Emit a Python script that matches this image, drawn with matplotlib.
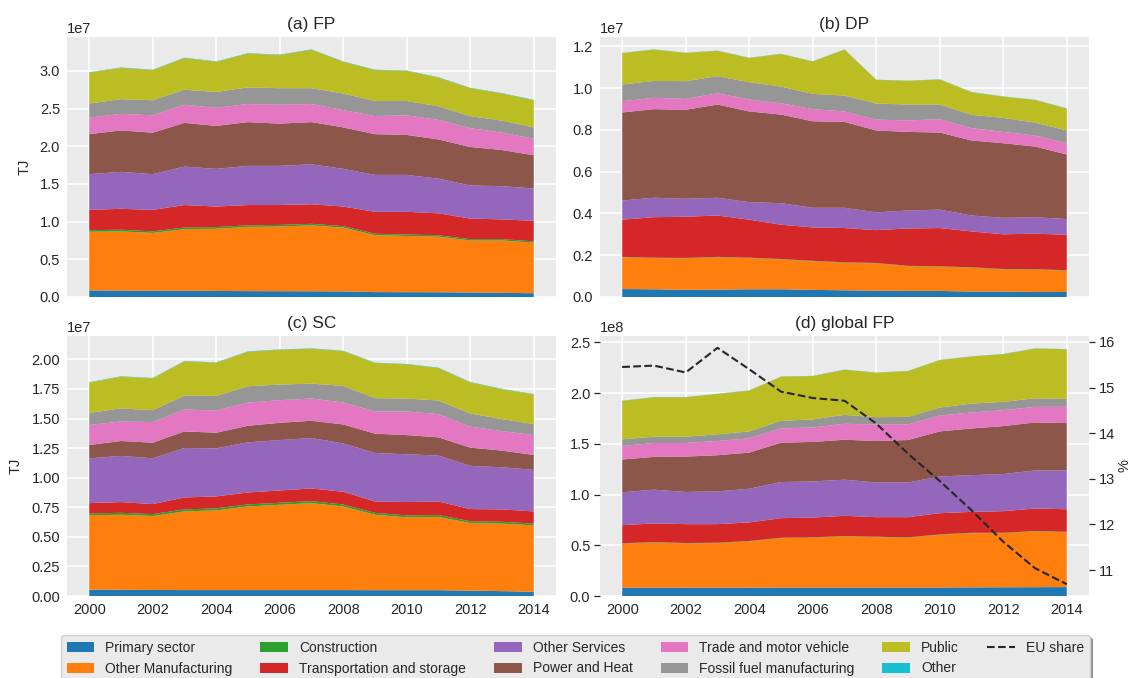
import matplotlib
matplotlib.use("Agg")
import matplotlib.pyplot as plt
from matplotlib.ticker import MultipleLocator
import numpy as np

plt.rcParams.update({
    "font.family": ["Liberation Sans", "DejaVu Sans"],
    "axes.facecolor": "#EAEAEA",
    "axes.edgecolor": "white",
    "axes.grid": True,
    "axes.axisbelow": True,
    "grid.color": "white",
    "grid.linewidth": 1.1,
    "text.color": "#262626",
    "axes.labelcolor": "#262626",
    "xtick.color": "#262626",
    "ytick.color": "#262626",
    "xtick.labelsize": 10.5,
    "ytick.labelsize": 10.5,
    "axes.titlesize": 12.5,
    "axes.labelsize": 10.5,
})

years = np.arange(2000, 2015)

sectors = ["Primary sector", "Other Manufacturing", "Construction",
           "Transportation and storage", "Other Services", "Power and Heat",
           "Trade and motor vehicle", "Fossil fuel manufacturing", "Public", "Other"]

# (a) FP, 1e7 TJ
fp_primary = [0.088, 0.085, 0.083, 0.082, 0.080, 0.078, 0.077, 0.076, 0.074, 0.065, 0.064, 0.063, 0.060, 0.055, 0.050]
fp_manuf = [0.777, 0.785, 0.767, 0.818, 0.825, 0.852, 0.858, 0.874, 0.846, 0.755, 0.746, 0.737, 0.690, 0.695, 0.670]
fp_constr = [0.022, 0.022, 0.021, 0.022, 0.022, 0.021, 0.021, 0.021, 0.020, 0.019, 0.019, 0.019, 0.018, 0.018, 0.018]
fp_transport = [0.269, 0.278, 0.285, 0.298, 0.273, 0.269, 0.264, 0.259, 0.260, 0.291, 0.301, 0.291, 0.272, 0.262, 0.272]
fp_services = [0.474, 0.490, 0.474, 0.510, 0.500, 0.520, 0.520, 0.530, 0.500, 0.490, 0.490, 0.460, 0.440, 0.440, 0.430]
fp_power = [0.530, 0.550, 0.550, 0.580, 0.570, 0.580, 0.560, 0.560, 0.550, 0.540, 0.530, 0.520, 0.510, 0.480, 0.440]
fp_trade = [0.220, 0.220, 0.230, 0.240, 0.240, 0.240, 0.250, 0.240, 0.230, 0.240, 0.260, 0.260, 0.250, 0.230, 0.220]
fp_fossil = [0.187, 0.195, 0.200, 0.200, 0.210, 0.220, 0.220, 0.210, 0.220, 0.200, 0.190, 0.180, 0.160, 0.160, 0.150]
fp_public = [0.410, 0.415, 0.400, 0.420, 0.400, 0.450, 0.440, 0.510, 0.420, 0.410, 0.400, 0.380, 0.370, 0.360, 0.360]
fp_other = [0.005] * 15

# (b) DP, 1e7 TJ
dp_primary = [0.038, 0.037, 0.034, 0.035, 0.037, 0.037, 0.034, 0.032, 0.030, 0.029, 0.029, 0.026, 0.026, 0.024, 0.024]
dp_manuf = [0.152, 0.149, 0.151, 0.155, 0.149, 0.143, 0.137, 0.132, 0.131, 0.118, 0.116, 0.114, 0.106, 0.107, 0.102]
dp_constr = [0.002] * 15
dp_transport = [0.178, 0.194, 0.197, 0.198, 0.182, 0.164, 0.160, 0.164, 0.157, 0.179, 0.183, 0.172, 0.166, 0.170, 0.170]
dp_services = [0.092, 0.093, 0.086, 0.085, 0.084, 0.103, 0.094, 0.097, 0.085, 0.086, 0.088, 0.076, 0.079, 0.079, 0.075]
dp_power = [0.421, 0.424, 0.426, 0.446, 0.434, 0.424, 0.414, 0.411, 0.392, 0.376, 0.369, 0.359, 0.357, 0.338, 0.309]
dp_trade = [0.054, 0.054, 0.052, 0.054, 0.057, 0.054, 0.058, 0.050, 0.052, 0.055, 0.064, 0.059, 0.054, 0.053, 0.054]
dp_fossil = [0.080, 0.081, 0.085, 0.082, 0.083, 0.080, 0.073, 0.076, 0.077, 0.076, 0.070, 0.064, 0.067, 0.062, 0.061]
dp_public = [0.150, 0.150, 0.135, 0.121, 0.116, 0.156, 0.155, 0.220, 0.113, 0.113, 0.120, 0.108, 0.102, 0.108, 0.105]
dp_other = [0.001] * 15

# (c) SC, 1e7 TJ
sc_primary = [0.053, 0.052, 0.051, 0.050, 0.050, 0.050, 0.050, 0.050, 0.050, 0.049, 0.049, 0.049, 0.045, 0.041, 0.036]
sc_manuf = [0.629, 0.635, 0.625, 0.665, 0.674, 0.707, 0.721, 0.735, 0.707, 0.638, 0.616, 0.619, 0.572, 0.571, 0.561]
sc_constr = [0.016, 0.016, 0.016, 0.017, 0.017, 0.017, 0.017, 0.017, 0.016, 0.016, 0.016, 0.016, 0.015, 0.015, 0.015]
sc_transport = [0.087, 0.091, 0.085, 0.101, 0.101, 0.101, 0.104, 0.107, 0.108, 0.096, 0.113, 0.115, 0.103, 0.105, 0.103]
sc_services = [0.379, 0.390, 0.387, 0.418, 0.406, 0.424, 0.426, 0.426, 0.409, 0.410, 0.404, 0.388, 0.365, 0.356, 0.351]
sc_power = [0.112, 0.126, 0.132, 0.140, 0.132, 0.140, 0.146, 0.146, 0.160, 0.163, 0.162, 0.154, 0.154, 0.141, 0.126]
sc_trade = [0.169, 0.165, 0.174, 0.185, 0.188, 0.196, 0.191, 0.188, 0.185, 0.188, 0.200, 0.196, 0.177, 0.165, 0.168]
sc_fossil = [0.103, 0.110, 0.101, 0.118, 0.123, 0.138, 0.132, 0.126, 0.141, 0.112, 0.109, 0.115, 0.112, 0.101, 0.093]
sc_public = [0.256, 0.269, 0.269, 0.289, 0.281, 0.292, 0.294, 0.295, 0.294, 0.297, 0.289, 0.275, 0.263, 0.253, 0.250]
sc_other = [0.003] * 15

# (d) global FP, 1e8 TJ
gl_primary = [0.082, 0.082, 0.082, 0.082, 0.082, 0.083, 0.083, 0.083, 0.083, 0.083, 0.084, 0.085, 0.086, 0.087, 0.088]
gl_manuf = [0.433, 0.446, 0.436, 0.439, 0.456, 0.487, 0.491, 0.504, 0.497, 0.491, 0.519, 0.534, 0.533, 0.549, 0.541]
gl_constr = [0.004] * 15
gl_transport = [0.179, 0.183, 0.186, 0.183, 0.183, 0.193, 0.195, 0.199, 0.193, 0.199, 0.209, 0.206, 0.213, 0.222, 0.222]
gl_services = [0.324, 0.333, 0.317, 0.323, 0.332, 0.356, 0.356, 0.356, 0.342, 0.342, 0.362, 0.362, 0.365, 0.375, 0.382]
gl_power = [0.323, 0.323, 0.349, 0.356, 0.356, 0.388, 0.389, 0.394, 0.408, 0.418, 0.444, 0.460, 0.473, 0.473, 0.467]
gl_trade = [0.133, 0.137, 0.134, 0.140, 0.141, 0.140, 0.143, 0.157, 0.164, 0.154, 0.157, 0.157, 0.157, 0.154, 0.160]
gl_fossil = [0.066, 0.062, 0.062, 0.066, 0.068, 0.075, 0.079, 0.088, 0.071, 0.075, 0.078, 0.088, 0.082, 0.084, 0.078]
gl_public = [0.378, 0.388, 0.388, 0.398, 0.402, 0.435, 0.427, 0.444, 0.438, 0.450, 0.467, 0.464, 0.470, 0.490, 0.489]
gl_other = [0.002] * 15

# EU share of global footprint, %
eu_share = [15.45, 15.48, 15.33, 15.87, 15.40, 14.91, 14.77, 14.71, 14.21, 13.55, 12.95, 12.31, 11.62, 11.04, 10.69]

panels = [
    ("(a) FP", 1e7, [fp_primary, fp_manuf, fp_constr, fp_transport, fp_services,
                     fp_power, fp_trade, fp_fossil, fp_public, fp_other]),
    ("(b) DP", 1e7, [dp_primary, dp_manuf, dp_constr, dp_transport, dp_services,
                     dp_power, dp_trade, dp_fossil, dp_public, dp_other]),
    ("(c) SC", 1e7, [sc_primary, sc_manuf, sc_constr, sc_transport, sc_services,
                     sc_power, sc_trade, sc_fossil, sc_public, sc_other]),
    ("(d) global FP", 1e8, [gl_primary, gl_manuf, gl_constr, gl_transport, gl_services,
                            gl_power, gl_trade, gl_fossil, gl_public, gl_other]),
]
y_steps = [0.5e7, 0.2e7, 0.25e7, 0.5e8]

colors = list(plt.get_cmap("tab10").colors)
colors[7] = "#969696"  # lighter gray for fossil fuel manufacturing

fig = plt.figure(figsize=(11.32, 6.78), dpi=100)
W, H = 1132, 678
boxes = [(67, 37, 556, 297), (600, 37, 1089, 297),
         (67, 336, 556, 596), (600, 336, 1089, 596)]

axes = []
for (x0, y0, x1, y1) in boxes:
    ax = fig.add_axes([x0 / W, 1 - y1 / H, (x1 - x0) / W, (y1 - y0) / H])
    axes.append(ax)

for i, (ax, (title, scale, series)) in enumerate(zip(axes, panels)):
    vals = [np.asarray(s) * scale for s in series]
    ax.stackplot(years, *vals, labels=sectors, colors=colors, linewidth=0.8)
    ax.set_title(title, pad=6)
    ax.set_xticks(np.arange(2000, 2015, 2))
    ax.yaxis.set_major_locator(MultipleLocator(y_steps[i]))
    ax.tick_params(length=0, pad=5)
    for sp in ax.spines.values():
        sp.set_visible(False)
    if i < 2:
        ax.tick_params(labelbottom=False)
    if i % 2 == 0:
        ax.set_ylabel("TJ", labelpad=6)

ax_d = axes[3]
ax_r = ax_d.twinx()
ax_r.plot(years, eu_share, ls="--", color="#262626", lw=1.5, label="EU share")
ax_r.grid(False)
for sp in ax_r.spines.values():
    sp.set_visible(False)
ax_r.set_ylabel("%", labelpad=2)
ax_r.tick_params(axis="y", length=4, width=0.9, pad=3, color="#262626")
ax_d.tick_params(axis="y", length=4, width=0.9, pad=3, left=True, color="#262626")

handles, labels = axes[0].get_legend_handles_labels()
h2, l2 = ax_r.get_legend_handles_labels()
leg = fig.legend(handles + h2, labels + l2, ncol=6, loc="upper left",
                 bbox_to_anchor=(61 / W, 1 - 635 / H), borderaxespad=0,
                 frameon=True, fancybox=True, shadow=True, fontsize=10.0,
                 labelspacing=0.5, columnspacing=2.0,
                 facecolor="#EAEAEA", edgecolor="#CFCFCF", framealpha=1)

fig.savefig("out.png", dpi=100)
